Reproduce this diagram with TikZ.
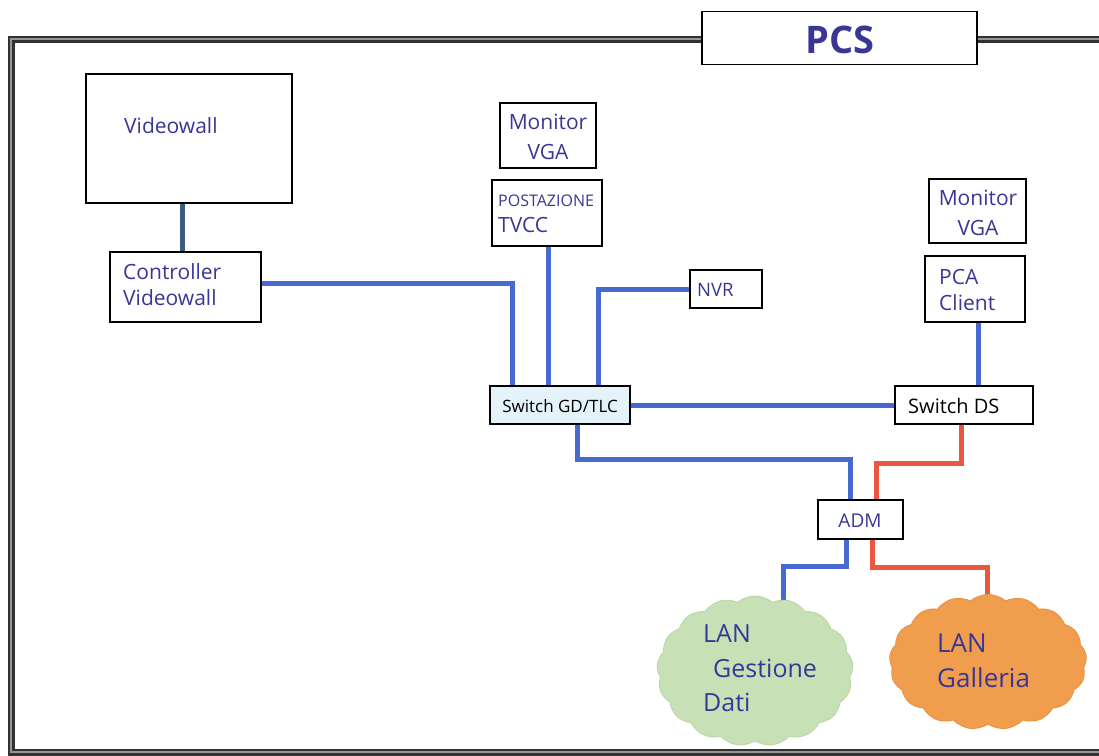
\documentclass[tikz,border=0pt]{standalone}
\usepackage{fontspec}
\setmainfont{Open Sans}
\usetikzlibrary{shapes.symbols}
\pgfdeclarelayer{wires}
\pgfsetlayers{wires,main}

\definecolor{txtblue}{RGB}{58,54,150}
\definecolor{wireblue}{RGB}{72,106,208}
\definecolor{wirered}{RGB}{232,88,62}
\definecolor{wiredark}{RGB}{58,92,134}
\definecolor{framedark}{RGB}{50,50,50}
\definecolor{framemid}{RGB}{150,150,150}
\definecolor{cloudgreen}{RGB}{200,224,182}
\definecolor{cloudgreenedge}{RGB}{188,216,168}
\definecolor{cloudorange}{RGB}{240,158,78}
\definecolor{cloudorangeedge}{RGB}{234,146,66}
\definecolor{switchfill}{RGB}{228,242,250}

\tikzset{
  box/.style={draw=black, line width=1.5pt, fill=white, inner sep=0pt},
  lbl/.style={text=txtblue, inner sep=0pt, font=\fontsize{21}{26}\selectfont},
  wire/.style={draw=wireblue, line width=5pt},
  redwire/.style={draw=wirered, line width=5pt},
  darkwire/.style={draw=wiredark, line width=5pt},
  lancloud/.style={cloud, cloud puffs=17, cloud puff arc=80, cloud ignores aspect, line width=1pt, inner sep=0pt},
}

\begin{document}
\begin{tikzpicture}[x=1pt,y=-1pt]
\useasboundingbox (0,0) rectangle (1099,755);
\clip (0,0) rectangle (1099,755);

% outer double frame
\draw[framedark, line width=7pt] (11,39) rectangle (1120,752);
\draw[framemid, line width=1.2pt] (11,39) rectangle (1120,752);

% title box
\node[box, minimum width=275pt, minimum height=53pt] (title) at (839.5,38) {};
\node[text=txtblue, font=\fontsize{38}{40}\selectfont\bfseries, inner sep=0pt] (ttitle) at (840,40) {PCS};

% equipment boxes
\node[box, minimum width=206pt, minimum height=129pt] (vw) at (189,138.5) {};
\node[box, minimum width=151pt, minimum height=70pt] (ctrl) at (185.5,287) {};
\node[box, minimum width=96pt, minimum height=65pt] (mon1) at (548,135.5) {};
\node[box, minimum width=110pt, minimum height=66pt] (post) at (547,213) {};
\node[box, minimum width=72pt, minimum height=38pt] (nvr) at (726,289) {};
\node[box, fill=switchfill, minimum width=140pt, minimum height=38pt] (swgd) at (560,405) {};
\node[box, minimum width=138pt, minimum height=38pt] (swds) at (964,405) {};
\node[box, minimum width=97pt, minimum height=64pt] (mon2) at (977.5,211) {};
\node[box, minimum width=100pt, minimum height=66pt] (pca) at (975,289) {};
\node[box, minimum width=85pt, minimum height=39pt] (adm) at (860.5,519.5) {};

% LAN clouds
\node[lancloud, fill=cloudgreen, draw=cloudgreenedge, minimum width=196pt, minimum height=150pt] (lgd) at (755,671) {};
\node[lancloud, fill=cloudorange, draw=cloudorangeedge, minimum width=197pt, minimum height=135pt] (lgal) at (988,662) {};

% labels
\node[lbl, anchor=west] (tvw) at (124,126) {Videowall};
\node[lbl, anchor=west, align=left] (tctrl) at (123,285) {Controller\\Videowall};
\node[lbl, align=center, font=\fontsize{21}{30}\selectfont] (tmon1) at (548,137) {Monitor\\VGA};
\node[lbl, anchor=west, align=left] (tpost) at (498,214) {{\fontsize{16}{18}\selectfont POSTAZIONE}\\TVCC};
\node[lbl, anchor=west, font=\fontsize{18.5}{22}\selectfont] (tnvr) at (697,290) {NVR};
\node[inner sep=0pt, font=\fontsize{17}{18}\selectfont] (tswgd) at (560,406) {Switch GD/TLC};
\node[inner sep=0pt, anchor=west, font=\fontsize{20}{22}\selectfont] (tswds) at (908,406) {Switch DS};
\node[lbl, align=center, font=\fontsize{21}{30}\selectfont] (tmon2) at (978,213) {Monitor\\VGA};
\node[lbl, anchor=west, align=left] (tpca) at (939,290) {PCA\\Client};
\node[lbl, font=\fontsize{19}{22}\selectfont] (tadm) at (860,521) {ADM};
\node[lbl, anchor=west, align=left, font=\fontsize{25}{34.5}\selectfont] (tlgd) at (703,668.5) {LAN\\\hspace{10pt}Gestione\\Dati};
\node[lbl, anchor=west, align=left, font=\fontsize{26}{35}\selectfont] (tlgal) at (937,660.5) {LAN\\Galleria};

% bend points of the connectors
\coordinate (j1) at (850,459);
\coordinate (j2) at (876,463);
\coordinate (j3) at (783,566);
\coordinate (j3e) at (783,608);
\coordinate (j4) at (987,567);
\coordinate (j4e) at (987,608);

% connectors
\begin{pgfonlayer}{wires}
\draw[darkwire] ([xshift=-7pt]vw.south) -- ([xshift=-3.5pt]ctrl.north);
\draw[wire] ([yshift=4pt]ctrl.east) -| ([xshift=-48pt]swgd.north);
\draw[wire] ([xshift=1pt]post.south) -- ([xshift=-12pt]swgd.north);
\draw[wire] (nvr.west) -| ([xshift=38pt]swgd.north);
\draw[wire] (swgd.east) -- (swds.west);
\draw[wire] ([xshift=3pt]pca.south) -- ([xshift=14pt]swds.north);
\draw[wire] ([xshift=17pt]swgd.south) |- (j1) -- ([xshift=-10.5pt]adm.north);
\draw[redwire] ([xshift=-3pt]swds.south) |- (j2) -- ([xshift=15.5pt]adm.north);
\draw[wire] ([xshift=-14.5pt]adm.south) |- (j3) -- (j3e);
\draw[redwire] ([xshift=11.5pt]adm.south) |- (j4) -- (j4e);
\end{pgfonlayer}
\end{tikzpicture}
\end{document}
